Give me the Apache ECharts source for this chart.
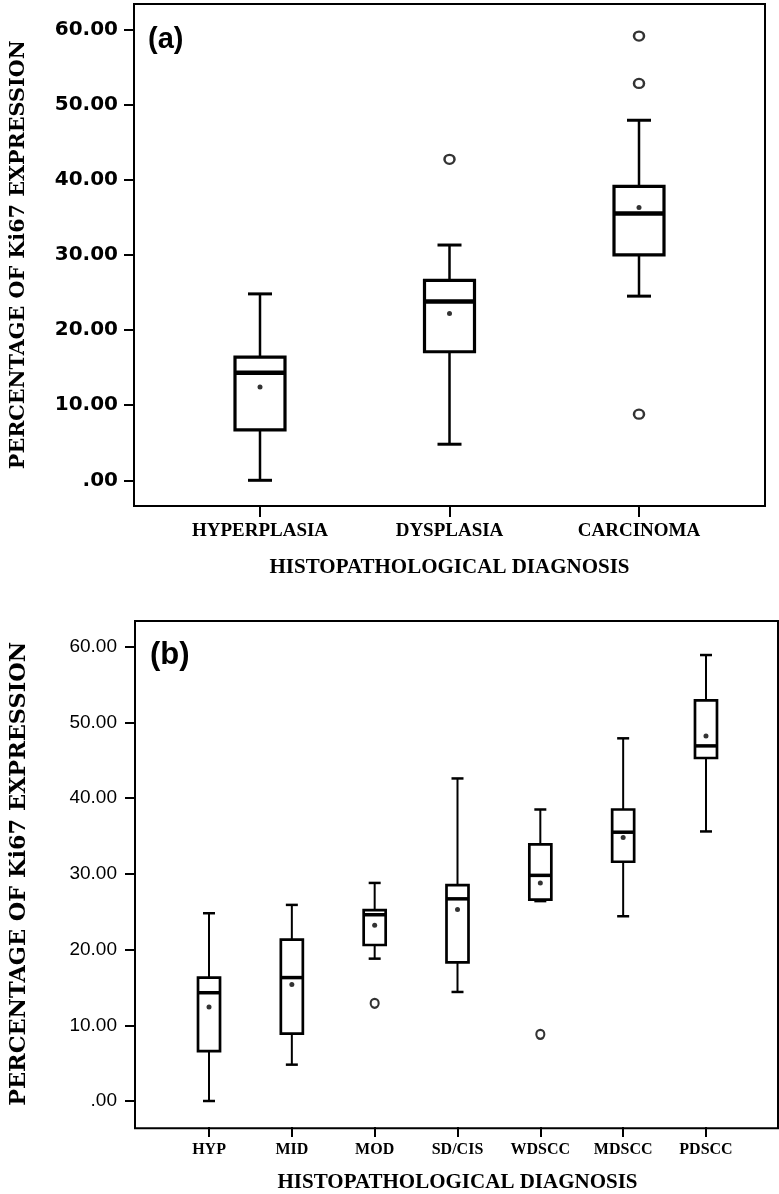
<!DOCTYPE html>
<html>
<head>
<meta charset="utf-8">
<script src="https://cdn.jsdelivr.net/npm/echarts@6/dist/echarts.min.js"></script>
<style>
html,body{margin:0;padding:0;background:#fff;}
#chart{width:779px;height:1194px;}
</style>
</head>
<body>
<div id="chart"></div>
<script>
// ---------- DATA ----------
const yTicks = [0, 10, 20, 30, 40, 50, 60];
const yTickLabels = ['.00', '10.00', '20.00', '30.00', '40.00', '50.00', '60.00'];

// Panel (a)
const catsA = ['HYPERPLASIA', 'DYSPLASIA', 'CARCINOMA'];
// [min, Q1, median, Q3, max]
const boxA = [
  [0.0, 6.7, 14.3, 16.4, 24.8],
  [4.8, 17.1, 23.8, 26.6, 31.3],
  [24.5, 30.0, 35.5, 39.1, 47.9]
];
const meanA = [12.4, 22.2, 36.3];
const outlierCatA = [1, 2, 2, 2];
const outlierValA = [42.7, 59.1, 52.8, 8.8];

// Panel (b)
const catsB = ['HYP', 'MID', 'MOD', 'SD/CIS', 'WDSCC', 'MDSCC', 'PDSCC'];
const boxB = [
  [0.0, 6.6, 14.3, 16.3, 24.8],
  [4.8, 8.9, 16.3, 21.3, 25.9],
  [18.8, 20.6, 24.6, 25.2, 28.8],
  [14.4, 18.3, 26.7, 28.5, 42.6],
  [26.4, 26.6, 29.8, 33.9, 38.5],
  [24.4, 31.6, 35.5, 38.5, 47.9],
  [35.6, 45.3, 46.9, 52.9, 58.9]
];
const meanB = [12.4, 15.4, 23.2, 25.3, 28.8, 34.8, 48.2];
const outlierCatB = [2, 4];
const outlierValB = [12.9, 8.8];

const yTitle = 'PERCENTAGE OF Ki67 EXPRESSION';
const xTitle = 'HISTOPATHOLOGICAL DIAGNOSIS';

// ---------- CHART ----------
const chart = echarts.init(document.getElementById('chart'), null, {renderer: 'canvas'});

function boxRenderer(halfBox, halfCap, wW, bW, mW, cW) {
  return function (params, api) {
    const x = api.value(0);
    const pMin = api.coord([x, api.value(1)]);
    const pQ1 = api.coord([x, api.value(2)]);
    const pMed = api.coord([x, api.value(3)]);
    const pQ3 = api.coord([x, api.value(4)]);
    const pMax = api.coord([x, api.value(5)]);
    const cx = pMin[0];
    const st = (w) => ({stroke: '#000', lineWidth: w, fill: null});
    return {
      type: 'group',
      children: [
        {type: 'line', shape: {x1: cx, y1: pMax[1], x2: cx, y2: pQ3[1]}, style: st(wW)},
        {type: 'line', shape: {x1: cx, y1: pQ1[1], x2: cx, y2: pMin[1]}, style: st(wW)},
        {type: 'line', shape: {x1: cx - halfCap, y1: pMax[1], x2: cx + halfCap, y2: pMax[1]}, style: st(cW)},
        {type: 'line', shape: {x1: cx - halfCap, y1: pMin[1], x2: cx + halfCap, y2: pMin[1]}, style: st(cW)},
        {type: 'rect', shape: {x: cx - halfBox, y: pQ3[1], width: 2 * halfBox, height: pQ1[1] - pQ3[1]},
          style: {fill: '#fff', stroke: '#000', lineWidth: bW}},
        {type: 'line', shape: {x1: cx - halfBox, y1: pMed[1], x2: cx + halfBox, y2: pMed[1]}, style: st(mW)}
      ]
    };
  };
}

const tickFmt = (v) => { const i = yTicks.indexOf(v); return i >= 0 ? yTickLabels[i] : ''; };

const option = {
  animation: false,
  backgroundColor: '#fff',
  grid: [
    // frame a
    {left: 134, top: 4, width: 631, height: 502, show: true, borderColor: '#000', borderWidth: 2, backgroundColor: 'transparent'},
    // data a
    {left: 165.25, top: 29.3, width: 568.5, height: 451},
    // frame b
    {left: 135, top: 621, width: 643, height: 507.3, show: true, borderColor: '#000', borderWidth: 2, backgroundColor: 'transparent'},
    // data b
    {left: 167.6, top: 646.7, width: 579.8, height: 455.6}
  ],
  xAxis: [
    {gridIndex: 0, type: 'value', show: false},
    {gridIndex: 1, type: 'category', data: catsA, offset: 25.7,
      axisLine: {show: false, onZero: false},
      axisTick: {show: true, alignWithLabel: true, interval: 0, length: 11, lineStyle: {color: '#000', width: 2}},
      axisLabel: {interval: 0, margin: 16, color: '#000', fontFamily: 'Liberation Serif', fontWeight: 'bold', fontSize: 19},
      name: xTitle, nameLocation: 'middle', nameGap: 51,
      nameTextStyle: {color: '#000', fontFamily: 'Liberation Serif', fontWeight: 'bold', fontSize: 21}
    },
    {gridIndex: 2, type: 'value', show: false},
    {gridIndex: 3, type: 'category', data: catsB, offset: 26,
      axisLine: {show: false, onZero: false},
      axisTick: {show: true, alignWithLabel: true, interval: 0, length: 10, lineStyle: {color: '#000', width: 2}},
      axisLabel: {interval: 0, margin: 15, color: '#000', fontFamily: 'Liberation Serif', fontWeight: 'bold', fontSize: 16},
      name: xTitle, nameLocation: 'middle', nameGap: 45,
      nameTextStyle: {color: '#000', fontFamily: 'Liberation Serif', fontWeight: 'bold', fontSize: 21}
    }
  ],
  yAxis: [
    {gridIndex: 0, type: 'value', show: false},
    {gridIndex: 1, type: 'value', min: 0, max: 60, interval: 10, offset: 31.25,
      axisLine: {show: false}, splitLine: {show: false},
      axisTick: {show: true, length: 10, lineStyle: {color: '#000', width: 2}},
      axisLabel: {margin: 16, formatter: tickFmt, color: '#000', fontFamily: 'DejaVu Sans', fontWeight: 'bold', fontSize: 20},
      name: yTitle, nameLocation: 'middle', nameGap: 105, nameRotate: 90,
      nameTextStyle: {color: '#000', fontFamily: 'DejaVu Serif', fontWeight: 'bold', fontSize: 20.7}
    },
    {gridIndex: 2, type: 'value', show: false},
    {gridIndex: 3, type: 'value', min: 0, max: 60, interval: 10, offset: 32.6,
      axisLine: {show: false}, splitLine: {show: false},
      axisTick: {show: true, length: 10, lineStyle: {color: '#000', width: 2}},
      axisLabel: {margin: 18, formatter: tickFmt, color: '#000', fontFamily: 'Liberation Sans', fontSize: 19},
      name: yTitle, nameLocation: 'middle', nameGap: 105, nameRotate: 90,
      nameTextStyle: {color: '#000', fontFamily: 'DejaVu Serif', fontWeight: 'bold', fontSize: 22.4}
    }
  ],
  graphic: [
    {type: 'text', left: 148, top: 25, style: {text: '(a)', fill: '#000', font: 'bold 29px "Liberation Sans"'}},
    {type: 'text', left: 150, top: 640, style: {text: '(b)', fill: '#000', font: 'bold 31px "Liberation Sans"'}}
  ],
  series: [
    {type: 'custom', xAxisIndex: 1, yAxisIndex: 1, z: 2,
      renderItem: boxRenderer(25, 12, 2.5, 3.2, 4.5, 3),
      encode: {x: 0, y: [1, 2, 3, 4, 5]},
      data: boxA.map((b, i) => [i].concat(b))},
    {type: 'scatter', xAxisIndex: 1, yAxisIndex: 1, z: 5, symbol: 'circle', symbolSize: 5,
      itemStyle: {color: '#000'}, data: meanA.map((v, i) => [i, v])},
    {type: 'scatter', xAxisIndex: 1, yAxisIndex: 1, z: 5, symbol: 'circle', symbolSize: [10, 9],
      itemStyle: {color: '#fff', borderColor: '#000', borderWidth: 2.4},
      data: outlierValA.map((v, i) => [outlierCatA[i], v])},
    {type: 'custom', xAxisIndex: 3, yAxisIndex: 3, z: 2,
      renderItem: boxRenderer(11, 6, 2, 2.7, 3.5, 2.5),
      encode: {x: 0, y: [1, 2, 3, 4, 5]},
      data: boxB.map((b, i) => [i].concat(b))},
    {type: 'scatter', xAxisIndex: 3, yAxisIndex: 3, z: 5, symbol: 'circle', symbolSize: 5,
      itemStyle: {color: '#000'}, data: meanB.map((v, i) => [i, v])},
    {type: 'scatter', xAxisIndex: 3, yAxisIndex: 3, z: 5, symbol: 'circle', symbolSize: [8, 9],
      itemStyle: {color: '#fff', borderColor: '#000', borderWidth: 2.2},
      data: outlierValB.map((v, i) => [outlierCatB[i], v])}
  ]
};
chart.setOption(option);
</script>
</body>
</html>
